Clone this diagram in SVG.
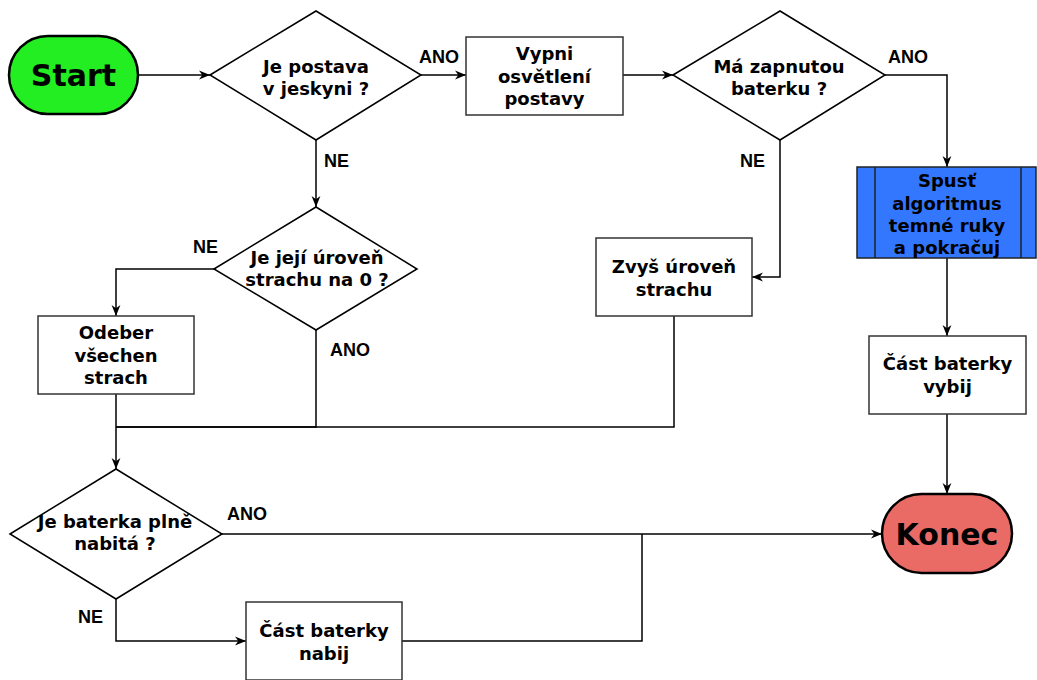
<svg xmlns="http://www.w3.org/2000/svg" width="1037" height="680" viewBox="0 0 1037 680">
<style>
.n{font-family:"DejaVu Sans",Verdana,sans-serif;font-weight:bold;font-size:18px;fill:#000;text-anchor:middle}
.big{font-size:30px}
.lbl{font-family:"Liberation Sans",Arial,sans-serif;font-weight:bold;font-size:18px;fill:#000}
.box{fill:#fff;stroke:#333;stroke-width:1.5}
.dia{fill:#fff;stroke:#000;stroke-width:1.5}
.term{stroke:#000;stroke-width:2.5}
.c{fill:none;stroke:#000;stroke-width:1.5}
</style>
<defs>
<marker id="a" viewBox="0 0 10 10" refX="10" refY="5" markerWidth="11" markerHeight="11" markerUnits="userSpaceOnUse" orient="auto">
<path d="M0,1 L10,5 L0,9 L3,5 z" fill="#000"/>
</marker>
</defs>
<rect width="1037" height="680" fill="#fff"/>
<g id="connectors">
<path class="c" d="M138,75 H210" marker-end="url(#a)"/>
<path class="c" d="M421,75 H466" marker-end="url(#a)"/>
<path class="c" d="M623,75 H673" marker-end="url(#a)"/>
<path class="c" d="M885,75 H947 V167" marker-end="url(#a)"/>
<path class="c" d="M780,140 V277 H752" marker-end="url(#a)"/>
<path class="c" d="M316,140 V207" marker-end="url(#a)"/>
<path class="c" d="M214,269 H116 V316" marker-end="url(#a)"/>
<path class="c" d="M316,330 V427 H116"/>
<path class="c" d="M674,316 V427 H116"/>
<path class="c" d="M116,394 V469" marker-end="url(#a)"/>
<path class="c" d="M947,258 V336" marker-end="url(#a)"/>
<path class="c" d="M947,414 V494" marker-end="url(#a)"/>
<path class="c" d="M222,534 H882" marker-end="url(#a)"/>
<path class="c" d="M116,599 V641 H246" marker-end="url(#a)"/>
<path class="c" d="M402,641 H642 V534"/>
<text class="lbl" x="419" y="63">ANO</text>
<text class="lbl" x="888" y="63">ANO</text>
<text class="lbl" x="324" y="167">NE</text>
<text class="lbl" x="740" y="167">NE</text>
<text class="lbl" x="193" y="253">NE</text>
<text class="lbl" x="330" y="356">ANO</text>
<text class="lbl" x="227" y="520">ANO</text>
<text class="lbl" x="78" y="623">NE</text>
</g>
<g id="start">
<rect class="term" x="9" y="36" width="129" height="78" rx="39" fill="#22ee22"/>
<text class="n big" x="73.5" y="86">Start</text>
</g>
<g id="d1">
<polygon class="dia" points="210,75 316,11 421,75 316,140"/>
<text class="n" x="316" y="73">Je postava</text>
<text class="n" x="316" y="95">v jeskyni ?</text>
</g>
<g id="vypni">
<rect class="box" x="466" y="37" width="157" height="78"/>
<text class="n" x="544.5" y="60">Vypni</text>
<text class="n" x="544.5" y="82.5">osvětlení</text>
<text class="n" x="544.5" y="105">postavy</text>
</g>
<g id="d2">
<polygon class="dia" points="673,75 780,11 885,75 780,140"/>
<text class="n" x="779" y="73">Má zapnutou</text>
<text class="n" x="779" y="95">baterku ?</text>
</g>
<g id="spust">
<rect x="857" y="167" width="179" height="91" fill="#3377ff" stroke="#222" stroke-width="1.5"/>
<line x1="875" y1="167" x2="875" y2="258" stroke="#222" stroke-width="1.5"/>
<line x1="1021" y1="167" x2="1021" y2="258" stroke="#222" stroke-width="1.5"/>
<text class="n" x="947" y="187">Spusť</text>
<text class="n" x="947" y="209.5">algoritmus</text>
<text class="n" x="947" y="232">temné ruky</text>
<text class="n" x="947" y="254">a pokračuj</text>
</g>
<g id="zvys">
<rect class="box" x="596" y="238" width="156" height="78"/>
<text class="n" x="674" y="273">Zvyš úroveň</text>
<text class="n" x="674" y="295.5">strachu</text>
</g>
<g id="d3">
<polygon class="dia" points="214,269 316,207 417,269 316,330"/>
<text class="n" x="317" y="264">Je její úroveň</text>
<text class="n" x="317" y="286">strachu na 0 ?</text>
</g>
<g id="odeber">
<rect class="box" x="38" y="316" width="156" height="78"/>
<text class="n" x="116" y="339">Odeber</text>
<text class="n" x="116" y="361.5">všechen</text>
<text class="n" x="116" y="384">strach</text>
</g>
<g id="vybij">
<rect class="box" x="869" y="336" width="157" height="78"/>
<text class="n" x="947.5" y="370">Část baterky</text>
<text class="n" x="947.5" y="392.5">vybij</text>
</g>
<g id="d4">
<polygon class="dia" points="10,534 116,469 222,534 116,599"/>
<text class="n" x="115" y="528">Je baterka plně</text>
<text class="n" x="115" y="550">nabitá ?</text>
</g>
<g id="konec">
<rect class="term" x="882" y="494" width="130" height="79" rx="39.5" fill="#ea6b66"/>
<text class="n big" x="947" y="545">Konec</text>
</g>
<g id="nabij">
<rect class="box" x="246" y="602" width="156" height="78"/>
<text class="n" x="324" y="637">Část baterky</text>
<text class="n" x="324" y="659.5">nabij</text>
</g>
</svg>
